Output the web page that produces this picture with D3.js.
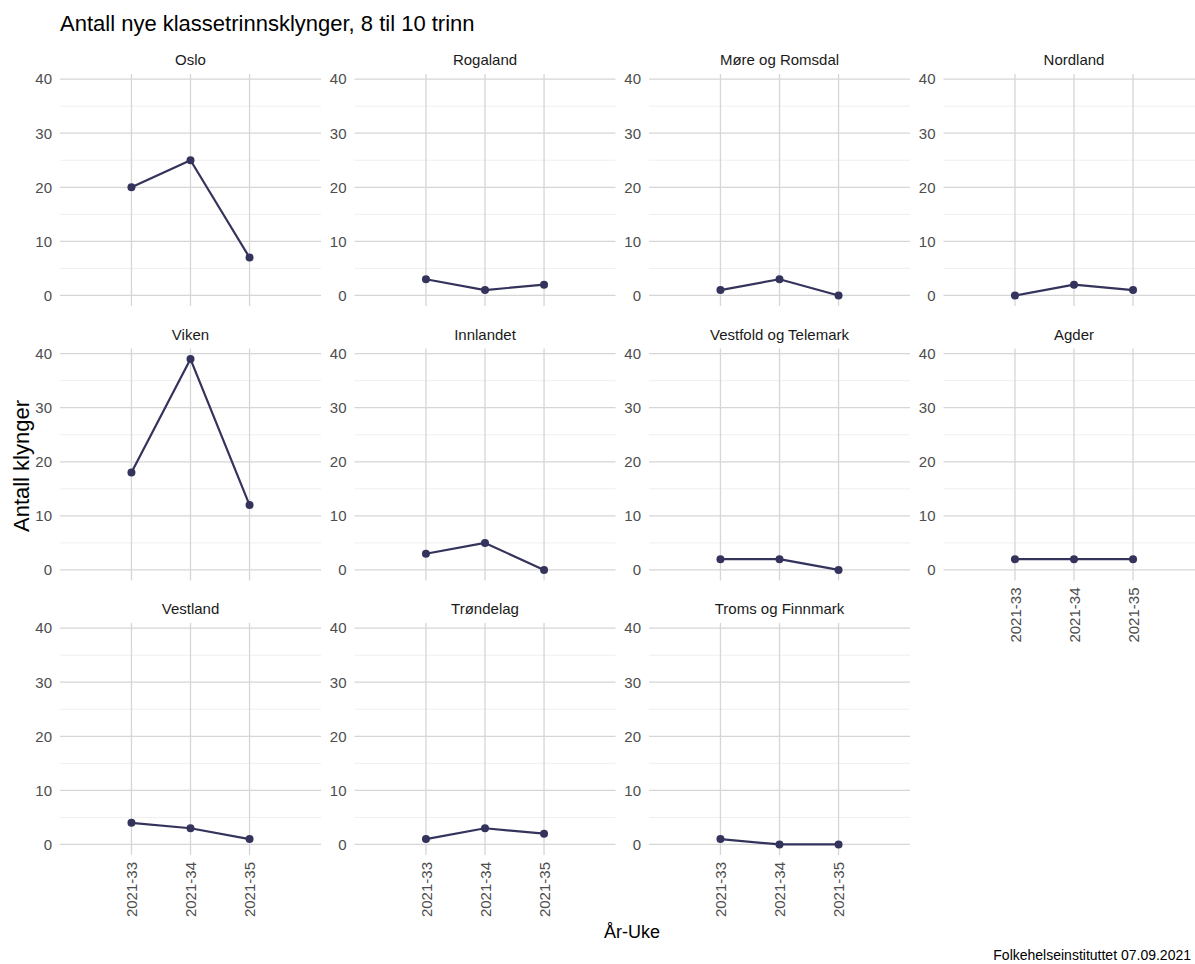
<!DOCTYPE html>
<html>
<head>
<meta charset="utf-8">
<script src="https://cdn.jsdelivr.net/npm/d3@7"></script>
<style>
  html, body { margin: 0; padding: 0; background: #fff; }
  svg { display: block; font-family: "Liberation Sans", Arial, sans-serif; }
</style>
</head>
<body>
<svg id="chart" width="1195" height="964"></svg>
<script>
// ---- Data ----
const weeks = ["2021-33", "2021-34", "2021-35"];
const regions = ["Oslo", "Rogaland", "Møre og Romsdal", "Nordland",
                 "Viken", "Innlandet", "Vestfold og Telemark", "Agder",
                 "Vestland", "Trøndelag", "Troms og Finnmark"];
const oslo = [20, 25, 7];
const rogaland = [3, 1, 2];
const moreRomsdal = [1, 3, 0];
const nordland = [0, 2, 1];
const viken = [18, 39, 12];
const innlandet = [3, 5, 0];
const vestfoldTelemark = [2, 2, 0];
const agder = [2, 2, 2];
const vestland = [4, 3, 1];
const trondelag = [1, 3, 2];
const tromsFinnmark = [1, 0, 0];
const seriesValues = [oslo, rogaland, moreRomsdal, nordland, viken, innlandet,
                      vestfoldTelemark, agder, vestland, trondelag, tromsFinnmark];
const yTicks = [0, 10, 20, 30, 40];
const yMinorTicks = [5, 15, 25, 35];
const title = "Antall nye klassetrinnsklynger, 8 til 10 trinn";
const xTitle = "År-Uke";
const yTitle = "Antall klynger";
const caption = "Folkehelseinstituttet 07.09.2021";

// ---- Layout ----
const svg = d3.select("#chart");
const ncol = 4;
const panelW = 261, panelH = 232;
const colStep = 294.5, rowStep = 274.5;
const left0 = 60, top0 = 74;
const lineColor = "#34335c";
const gridMajor = "#d6d6d6";
const gridMinor = "#efefef";
const FONT = "Liberation Sans, Arial, sans-serif";

const yMax = d3.max(seriesValues.flat());
const yPad = (yMax - 0) * 0.05;

svg.append("text")
  .attr("x", 60).attr("y", 31)
  .attr("font-size", 22).attr("fill", "#000")
  .text(title);

const nPanels = regions.length;
regions.forEach((name, i) => {
  const r = Math.floor(i / ncol), c = i % ncol;
  const px = left0 + c * colStep, py = top0 + r * rowStep;
  const g = svg.append("g").attr("transform", `translate(${px},${py})`);

  const x = d3.scalePoint().domain(weeks).range([0, panelW]).padding(1.21);
  const y = d3.scaleLinear().domain([0 - yPad, yMax + yPad]).range([panelH, 0]);

  // minor grid
  g.selectAll(".minor").data(yMinorTicks).enter().append("line")
    .attr("x1", 0).attr("x2", panelW)
    .attr("y1", d => y(d)).attr("y2", d => y(d))
    .attr("stroke", gridMinor).attr("stroke-width", 1);
  // major grid
  g.selectAll(".major").data(yTicks).enter().append("line")
    .attr("x1", 0).attr("x2", panelW)
    .attr("y1", d => y(d)).attr("y2", d => y(d))
    .attr("stroke", gridMajor).attr("stroke-width", 1.3);
  g.selectAll(".vgrid").data(weeks).enter().append("line")
    .attr("x1", d => x(d)).attr("x2", d => x(d))
    .attr("y1", 0).attr("y2", panelH)
    .attr("stroke", gridMajor).attr("stroke-width", 1.3);

  // y axis labels
  const yAxis = d3.axisLeft(y).tickValues(yTicks).tickSize(0).tickPadding(8);
  const ya = g.append("g").call(yAxis);
  ya.select(".domain").remove();
  ya.selectAll("text").attr("font-size", 15).attr("fill", "#4d4d4d")
    .attr("font-family", FONT);

  // x axis labels at the bottom of each column
  const hasBelow = i + ncol < nPanels;
  if (!hasBelow) {
    const xAxis = d3.axisBottom(x).tickSize(0).tickPadding(0);
    const xa = g.append("g").attr("transform", `translate(0,${panelH})`).call(xAxis);
    xa.select(".domain").remove();
    xa.selectAll("text")
      .attr("font-size", 15).attr("fill", "#4d4d4d")
      .attr("font-family", FONT)
      .attr("transform", "rotate(-90)")
      .attr("text-anchor", "end")
      .attr("x", -7).attr("y", 0).attr("dy", "0.35em");
  }

  // strip label
  g.append("text")
    .attr("x", panelW / 2).attr("y", -9)
    .attr("text-anchor", "middle")
    .attr("font-size", 15).attr("fill", "#1a1a1a")
    .text(name);

  const vals = seriesValues[i];
  const pts = weeks.map((w, k) => ({ w, v: vals[k] }));
  g.append("path").datum(pts)
    .attr("fill", "none").attr("stroke", lineColor).attr("stroke-width", 2.2)
    .attr("stroke-linejoin", "round")
    .attr("d", d3.line().x(d => x(d.w)).y(d => y(d.v)));
  g.selectAll(".pt").data(pts).enter().append("circle")
    .attr("cx", d => x(d.w)).attr("cy", d => y(d.v)).attr("r", 4)
    .attr("fill", lineColor);
});

// axis titles
svg.append("text")
  .attr("x", 632).attr("y", 938)
  .attr("text-anchor", "middle").attr("font-size", 18).attr("fill", "#000")
  .text(xTitle);
svg.append("text")
  .attr("transform", "translate(29,466) rotate(-90)")
  .attr("text-anchor", "middle").attr("font-size", 22).attr("fill", "#000")
  .text(yTitle);
svg.append("text")
  .attr("x", 1191).attr("y", 960)
  .attr("text-anchor", "end")
  .attr("font-size", 14).attr("fill", "#000")
  .text(caption);
</script>
</body>
</html>
